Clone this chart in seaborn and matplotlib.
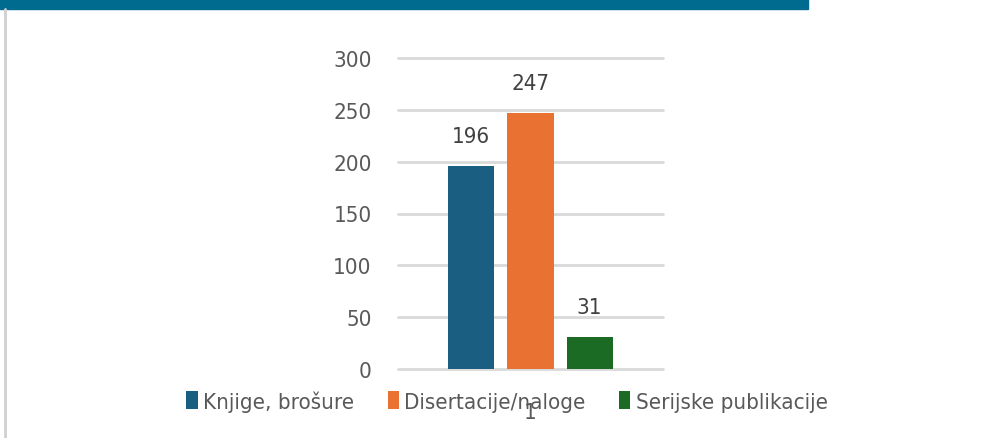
import matplotlib
matplotlib.use("Agg")
import matplotlib.pyplot as plt
from matplotlib.patches import Rectangle, Patch
from matplotlib.lines import Line2D
import seaborn as sns
import pandas as pd

# podaci
kategorije = ["1", "1", "1"]
serije = ["Knjige, brošure", "Disertacije/naloge", "Serijske publikacije"]
vrijednosti = [196, 247, 31]
boje = ["#1A5F82", "#E97132", "#1B6B25"]
y_ticks = [0, 50, 100, 150, 200, 250, 300]

df = pd.DataFrame({"kat": kategorije, "serija": serije, "broj": vrijednosti})

sns.set_theme(style="white")
plt.rcParams['font.family'] = ['DejaVu Sans']
plt.rcParams['font.stretch'] = 'condensed'
siva = "#595959"

fig = plt.figure(figsize=(9.88, 4.39), dpi=100)
ax = fig.add_axes([398 / 988, 1 - 370 / 439, 265 / 988, 311 / 439])

sns.barplot(data=df, x="kat", y="broj", hue="serija", palette=boje,
            width=0.67, gap=0.22, ax=ax, legend=False, saturation=1, linewidth=0)

for c in ax.containers:
    ax.bar_label(c, padding=14, fontsize=16, color="#404040")

ax.set_ylim(0, 300)
ax.set_yticks(y_ticks)
ax.yaxis.grid(True, color="#D9D9D9", linewidth=2)
for g in ax.get_ygridlines():
    g.set_clip_on(False)
ax.set_axisbelow(True)
for s in ax.spines.values():
    s.set_visible(False)
ax.set_xlabel("")
ax.set_ylabel("")
ax.tick_params(axis="y", labelsize=16, colors=siva, length=0, pad=19)
ax.tick_params(axis="x", labelsize=16, colors=siva, length=0, pad=24)

# legenda
ruke = [Patch(facecolor=b, edgecolor="none") for b in boje]
fig.legend(ruke, serije, loc="center", bbox_to_anchor=(507 / 988, 1 - 402 / 439),
           ncol=3, frameon=False, fontsize=16, handlelength=0.5, handleheight=0.9,
           handletextpad=0.25, columnspacing=1.5, labelcolor=siva)

# ukrasi: traka gore i linija lijevo
fig.patches.append(Rectangle((0, 1 - 10 / 439), 808 / 988, 10 / 439,
                             transform=fig.transFigure, color="#006A8F", zorder=0))
fig.lines.append(Line2D([5 / 988, 5 / 988], [0, 1 - 10 / 439],
                        transform=fig.transFigure, color="#D0D0D0", linewidth=2))

fig.savefig("out.png", dpi=100)
